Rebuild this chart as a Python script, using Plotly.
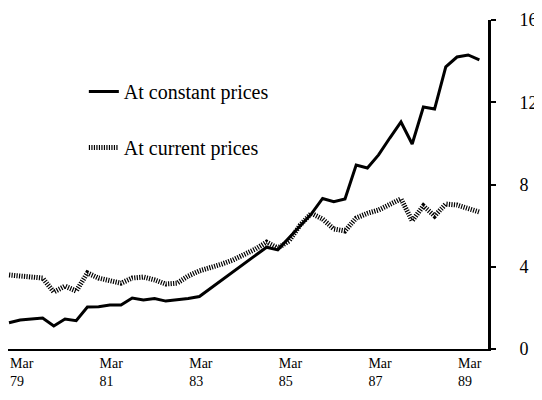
import plotly.graph_objects as go

# Quarterly observations, Mar 1979 .. Sep 1989 (quarter index 0..42)
quarters = list(range(43))
constant_prices = [1.28, 1.41, 1.46, 1.51, 1.12, 1.46, 1.38, 2.04, 2.06, 2.14,
                   2.14, 2.48, 2.38, 2.45, 2.33, 2.38, 2.46, 2.55, 2.95, 3.35,
                   3.75, 4.15, 4.55, 4.95, 4.82, 5.40, 5.98, 6.57, 7.32, 7.16,
                   7.30, 8.95, 8.80, 9.44, 10.26, 11.04, 9.97, 11.77, 11.67, 13.72,
                   14.20, 14.30, 14.06]
current_prices = [3.60, 3.55, 3.55, 3.45, 2.77, 3.06, 2.82, 3.70, 3.45, 3.30,
                  3.20, 3.45, 3.50, 3.36, 3.16, 3.20, 3.55, 3.80, 3.94, 4.13,
                  4.33, 4.57, 4.86, 5.20, 4.91, 5.25, 6.03, 6.60, 6.32, 5.84,
                  5.74, 6.37, 6.60, 6.76, 7.00, 7.30, 6.23, 6.96, 6.47, 7.05,
                  7.00, 6.86, 6.66]
tick_positions = [0, 8, 16, 24, 32, 40]
tick_labels = ["Mar<br>79", "Mar<br>81", "Mar<br>83", "Mar<br>85", "Mar<br>87", "Mar<br>89"]
y_ticks = [0, 4, 8, 12, 16]

FONT = "Liberation Serif"

fig = go.Figure()
fig.add_trace(go.Scatter(
    x=quarters, y=constant_prices, mode="lines", name="At constant prices",
    line=dict(color="black", width=3), legendgroup="a"))
fig.add_trace(go.Scatter(
    x=quarters, y=current_prices, mode="lines", name="At current prices",
    line=dict(color="black", width=5, dash="1.2px,1.3px"), legendgroup="b"))

# page body has an 8px margin, so the figure is drawn 8px smaller
fig.update_layout(
    width=534, height=392,
    margin=dict(l=0, r=54, t=12, b=51),
    paper_bgcolor="white", plot_bgcolor="white",
    font=dict(family=FONT, color="black"),
    showlegend=True,
    legend=dict(
        x=0.158, y=0.842, xanchor="left", yanchor="top",
        bgcolor="rgba(0,0,0,0)", font=dict(family=FONT, size=20),
        traceorder="grouped", tracegroupgap=27, itemwidth=30),
    xaxis=dict(
        range=[-0.09, 42.77], showgrid=False, zeroline=False,
        showline=True, linecolor="black", linewidth=2,
        tickmode="array", tickvals=tick_positions, ticktext=tick_labels,
        ticks="", ticklabelposition="outside right",
        tickfont=dict(family=FONT, size=14)),
    yaxis=dict(
        range=[0, 16], side="right", showgrid=False, zeroline=False,
        showline=True, linecolor="black", linewidth=3,
        tickmode="array", tickvals=y_ticks,
        ticks="outside", ticklen=5, tickwidth=2, tickcolor="black",
        ticklabelstandoff=20,
        tickfont=dict(family=FONT, size=18)),
)

fig.write_html("out.html")
